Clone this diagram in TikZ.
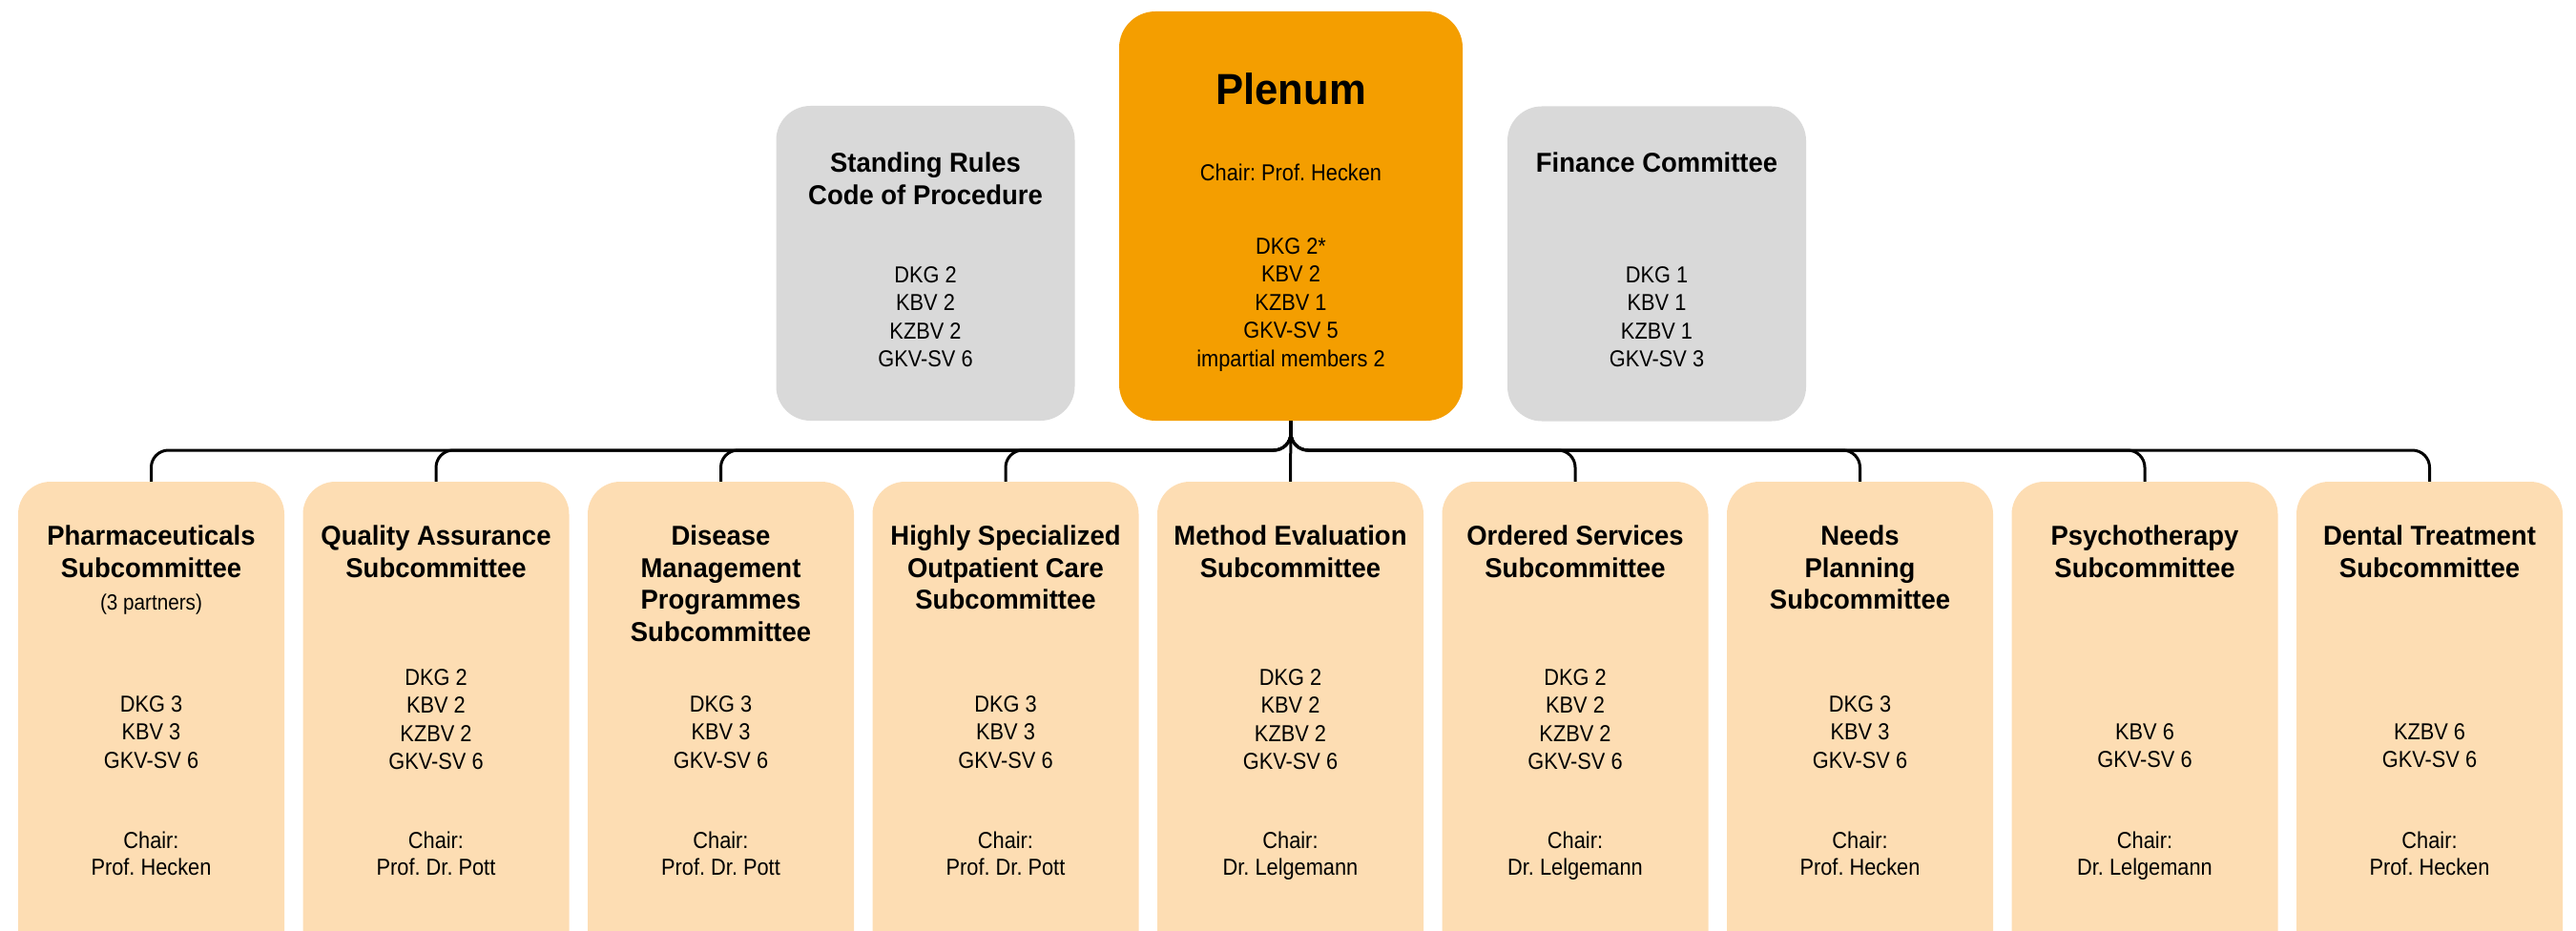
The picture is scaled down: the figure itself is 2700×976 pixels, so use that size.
\documentclass[tikz,border=0pt]{standalone}
\usepackage{fontspec}
\setmainfont{Liberation Sans}[FakeStretch=0.9, BoldFeatures={FakeStretch=0.96}]
\frenchspacing
\definecolor{plenumorange}{HTML}{F49E00}
\definecolor{subpeach}{HTML}{FDDDB3}
\definecolor{sidegray}{HTML}{D9D9D9}
\begin{document}
\begin{tikzpicture}[x=1pt,y=-1pt,
  graycard/.style={rectangle, fill=sidegray, draw=none, rounded corners=36pt, minimum width=313pt, minimum height=330pt, inner sep=0pt},
  plenumcard/.style={rectangle, fill=plenumorange, draw=none, rounded corners=38pt, minimum width=360pt, minimum height=429pt, inner sep=0pt},
  subcard/.style={rectangle, fill=subpeach, draw=none, rounded corners=34pt, minimum width=279pt, minimum height=505pt, inner sep=0pt},
  ttl/.style={font=\bfseries\fontsize{28.6}{33.5}\selectfont, align=center, inner sep=0pt, anchor=north},
  mem/.style={font=\fontsize{24.2}{29.5}\selectfont, align=center, inner sep=0pt, anchor=north},
  chairtxt/.style={font=\fontsize{24.2}{28}\selectfont, align=center, inner sep=0pt, anchor=north},
  smalltxt/.style={font=\fontsize{23}{24}\selectfont, align=center, inner sep=0pt, anchor=base},
  bigttl/.style={font=\bfseries\fontsize{45.5}{50}\selectfont, inner sep=0pt, anchor=north},
  conn/.style={draw=black, line width=3pt, rounded corners=18pt}
]
\useasboundingbox (0,0) rectangle (2700,976);
\clip (0,0) rectangle (2700,976);

% top row
\node[graycard] (rules) at (970,276) {};
\node[plenumcard] (plenum) at (1353,226.5) {};
\node[graycard] (finance) at (1736.5,276.5) {};

\node[ttl] (rulesT) at (970,160) {Standing Rules\\Code of Procedure};
\node[mem] (rulesM) at (970,279) {DKG 2\\KBV 2\\KZBV 2\\GKV-SV 6};

\node[bigttl] (plenumT) at (1353,76) {Plenum};
\node[chairtxt] (plenumC) at (1353,172) {Chair: Prof. Hecken};
\node[mem] (plenumM) at (1353,249) {DKG 2*\\KBV 2\\KZBV 1\\GKV-SV 5\\impartial members 2};

\node[ttl] (financeT) at (1736.5,160) {Finance Committee};
\node[mem] (financeM) at (1736.5,279) {DKG 1\\KBV 1\\KZBV 1\\GKV-SV 3};

% subcommittees
\node[subcard] (s1) at (158.5,757.5) {};
\node[subcard] (s2) at (457,757.5) {};
\node[subcard] (s3) at (755.5,757.5) {};
\node[subcard] (s4) at (1054,757.5) {};
\node[subcard] (s5) at (1352.5,757.5) {};
\node[subcard] (s6) at (1651,757.5) {};
\node[subcard] (s7) at (1949.5,757.5) {};
\node[subcard] (s8) at (2248,757.5) {};
\node[subcard] (s9) at (2546.5,757.5) {};

\node[ttl] (s1T) at (158.5,551) {Pharmaceuticals\\Subcommittee};
\node[smalltxt] (s1P) at (158.5,639) {(3 partners)};
\node[mem] (s1M) at (158.5,729) {DKG 3\\KBV 3\\GKV-SV 6};
\node[chairtxt] (s1C) at (158.5,872) {Chair:\\Prof. Hecken};

\node[ttl] (s2T) at (457,551) {Quality Assurance\\Subcommittee};
\node[mem] (s2M) at (457,701) {DKG 2\\KBV 2\\KZBV 2\\GKV-SV 6};
\node[chairtxt] (s2C) at (457,872) {Chair:\\Prof. Dr. Pott};

\node[ttl] (s3T) at (755.5,551) {Disease\\Management\\Programmes\\Subcommittee};
\node[mem] (s3M) at (755.5,729) {DKG 3\\KBV 3\\GKV-SV 6};
\node[chairtxt] (s3C) at (755.5,872) {Chair:\\Prof. Dr. Pott};

\node[ttl] (s4T) at (1054,551) {Highly Specialized\\Outpatient Care\\Subcommittee};
\node[mem] (s4M) at (1054,729) {DKG 3\\KBV 3\\GKV-SV 6};
\node[chairtxt] (s4C) at (1054,872) {Chair:\\Prof. Dr. Pott};

\node[ttl] (s5T) at (1352.5,551) {Method Evaluation\\Subcommittee};
\node[mem] (s5M) at (1352.5,701) {DKG 2\\KBV 2\\KZBV 2\\GKV-SV 6};
\node[chairtxt] (s5C) at (1352.5,872) {Chair:\\Dr. Lelgemann};

\node[ttl] (s6T) at (1651,551) {Ordered Services\\Subcommittee};
\node[mem] (s6M) at (1651,701) {DKG 2\\KBV 2\\KZBV 2\\GKV-SV 6};
\node[chairtxt] (s6C) at (1651,872) {Chair:\\Dr. Lelgemann};

\node[ttl] (s7T) at (1949.5,551) {Needs\\Planning\\Subcommittee};
\node[mem] (s7M) at (1949.5,729) {DKG 3\\KBV 3\\GKV-SV 6};
\node[chairtxt] (s7C) at (1949.5,872) {Chair:\\Prof. Hecken};

\node[ttl] (s8T) at (2248,551) {Psychotherapy\\Subcommittee};
\node[mem] (s8M) at (2248,758) {KBV 6\\GKV-SV 6};
\node[chairtxt] (s8C) at (2248,872) {Chair:\\Dr. Lelgemann};

\node[ttl] (s9T) at (2546.5,551) {Dental Treatment\\Subcommittee};
\node[mem] (s9M) at (2546.5,758) {KZBV 6\\GKV-SV 6};
\node[chairtxt] (s9C) at (2546.5,872) {Chair:\\Prof. Hecken};

% connectors
\coordinate (hub) at (1352.5,472);
\foreach \s in {s1,s2,s3,s4,s6,s7,s8,s9}{
  \draw[conn] (plenum.south) -- (plenum.south |- hub) -| (\s.north);
}
\draw[conn] (plenum.south) -- (s5.north);
\end{tikzpicture}
\end{document}
